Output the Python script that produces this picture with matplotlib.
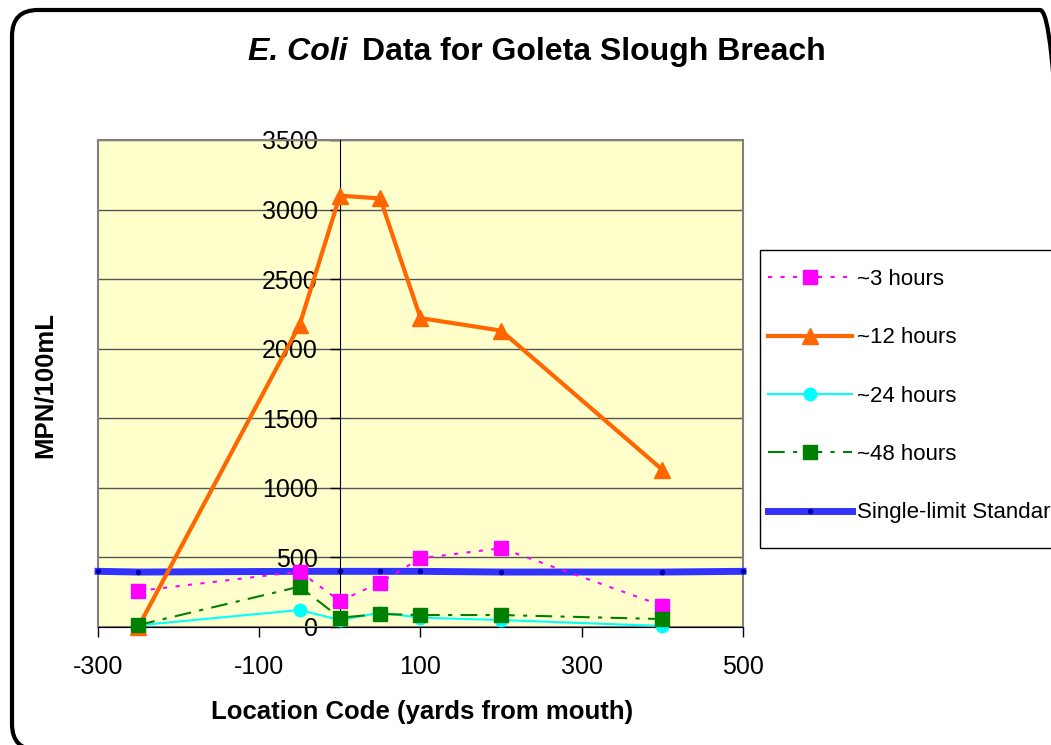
import matplotlib
matplotlib.use("Agg")
import matplotlib.pyplot as plt
from matplotlib.patches import FancyBboxPatch, Rectangle

plt.rcParams['font.family'] = ['Liberation Sans', 'DejaVu Sans']
plt.rcParams['axes.unicode_minus'] = False

# 数据
locs = [-250, -50, 0, 50, 100, 200, 400]
h3 = [259, 398, 187, 319, 494, 566, 153]
h12 = [0, 2170, 3100, 3080, 2220, 2130, 1130]
h24 = [12, 122, 50, 103, 67, 50, 7]
h48 = [14, 290, 67, 93, 86, 86, 57]
std_locs = [-300, -250, -50, 0, 50, 100, 200, 400, 500]
std_vals = [400, 395, 400, 400, 400, 400, 395, 395, 400]
labels = ['~3 hours', '~12 hours', '~24 hours', '~48 hours', 'Single-limit Standard']

W, H = 1051, 745
fig = plt.figure(figsize=(W / 100, H / 100), dpi=100)
ax = fig.add_axes([98 / W, 1 - 627 / H, (743 - 98) / W, (627 - 140) / H])
ax.set_facecolor('#FFFFCC')

# 外框（圆角）
border = FancyBboxPatch((12 / W, 1 - 750 / H), 1054 / W, 740 / H,
                        boxstyle="round,pad=0,rounding_size=%f" % (26 / W),
                        mutation_aspect=W / H,
                        transform=fig.transFigure, fill=False, edgecolor='black',
                        linewidth=3, zorder=0)
fig.patches.append(border)

l3, = ax.plot(locs, h3, color='#FF00FF', linestyle=(0, (2, 4)), linewidth=1.5,
              marker='s', markersize=10, markeredgecolor='#FF00FF', clip_on=False, zorder=4)
l12, = ax.plot(locs, h12, color='#FF6600', linewidth=3,
               marker='^', markersize=12, clip_on=False, zorder=3)
l24, = ax.plot(locs, h24, color='#00FFFF', linewidth=1.5,
               marker='o', markersize=9, clip_on=False, zorder=4)
l48, = ax.plot(locs, h48, color='#008000', linestyle=(0, (8, 4, 2, 4)), linewidth=1.5,
               marker='s', markersize=10, clip_on=False, zorder=5)
lstd, = ax.plot(std_locs, std_vals, color='#3333FF', linewidth=5,
                marker='o', markersize=3, markerfacecolor='#0000AA',
                markeredgecolor='#0000AA', clip_on=False, zorder=2)

ax.set_xlim(-300, 500)
ax.set_ylim(0, 3500)
ax.set_xticks([-300, -100, 100, 300, 500])
ax.set_yticks(range(0, 3501, 500))
ax.yaxis.grid(True, color='#555555', linewidth=1)
ax.set_axisbelow(True)

ax.spines['left'].set_position(('data', 0))
ax.spines['left'].set_color('black')
ax.spines['bottom'].set_color('black')
ax.spines['top'].set_visible(False)
ax.spines['right'].set_visible(False)
ax.add_patch(Rectangle((0, 0), 1, 1, transform=ax.transAxes, fill=False,
                       edgecolor='#808080', linewidth=1.5, zorder=1, clip_on=False))

ax.tick_params(axis='both', labelsize=18, direction='out', length=7, width=1)
ax.tick_params(axis='x', pad=13)
ax.tick_params(axis='y', pad=9)

fig.text(422 / W, 1 - 712 / H, 'Location Code (yards from mouth)', fontsize=18.5,
         fontweight='bold', ha='center', va='center')
fig.text(45 / W, 1 - 385 / H, 'MPN/100mL', rotation=90, fontsize=18.5,
         fontweight='bold', ha='center', va='center')

# 标题
fig.text(248 / W, 1 - 52 / H, 'E. Coli', fontsize=23, fontweight='bold',
         fontstyle='italic', ha='left', va='center')
fig.text(362 / W, 1 - 52 / H, 'Data for Goleta Slough Breach', fontsize=23,
         fontweight='bold', ha='left', va='center')

# 图例（边框单独画）
fig.patches.append(Rectangle((760 / W, 1 - 548 / H), 300 / W, 298 / H,
                             transform=fig.transFigure, fill=False,
                             edgecolor='black', linewidth=1, zorder=1))
leg = fig.legend([l3, l12, l24, l48, lstd], labels,
                 loc='upper left', bbox_to_anchor=(768 / W, 1 - 269 / H),
                 fontsize=16, frameon=False, handlelength=3.78,
                 handletextpad=0.22, labelspacing=1.68,
                 borderpad=0, borderaxespad=0)

fig.savefig('out.png', dpi=100)
